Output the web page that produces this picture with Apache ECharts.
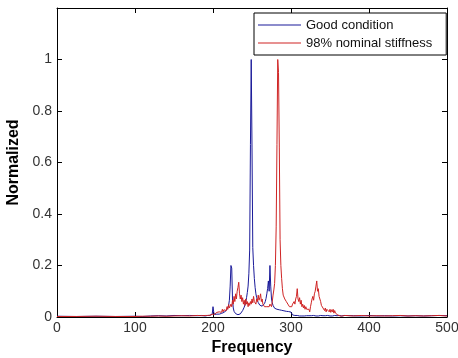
<!DOCTYPE html>
<html>
<head>
<meta charset="utf-8">
<script src="https://cdn.jsdelivr.net/npm/echarts@6/dist/echarts.min.js"></script>
<style>
html,body{margin:0;padding:0;background:#fff;}
#chart{width:458px;height:358px;}
</style>
</head>
<body>
<div id="chart"></div>
<script>
// Frequency sampling grid (Hz)
var freqLow = [0, 25, 50, 75, 100, 110, 120, 130, 140, 150, 160, 170, 180, 185];
var freqMid = [
 190,191,192,193,194,195,196,197,198,199,
 200,201,202,203,204,205,206,207,208,209,
 210,211,212,213,214,215,216,217,218,219,
 220,221,222,223,224,225,226,227,228,229,
 230,231,232,233,234,235,236,237,238,239,
 240,241,242,243,244,245,246,247,248,249,
 250,251,252,253,254,255,256,257,258,259,
 260,261,262,263,264,265,266,267,268,269,
 270,271,272,273,274,275,276,277,278,279,
 280,281,282,283,284,285,286,287,288,289,
 290,291,292,293,294,295,296,297,298,299,
 300,301,302,303,304,305,306,307,308,309,
 310,311,312,313,314,315,316,317,318,319,
 320,321,322,323,324,325,326,327,328,329,
 330,331,332,333,334,335,336,337,338,339,
 340,341,342,343,344,345,346,347,348,349,
 350,351,352,353,354,355,356,357,358,359,
 360,361,362,363,364,365,366,367,368,369,370
];
var freqHigh = [380, 390, 400, 410, 420, 430, 440, 450, 460, 470, 480, 490, 500];

// Good condition (blue)
var goodLow = [0.003, 0.002, 0.003, 0.002, 0.003, 0.002, 0.004, 0.005, 0.004, 0.006, 0.005, 0.006, 0.005, 0.006];
var goodMid = [
 0.004,0.005,0.004,0.006,0.005,0.004,0.006,0.005,0.008,0.012,
 0.040,0.018,0.010,0.009,0.010,0.011,0.010,0.012,0.011,0.013,
 0.012,0.014,0.015,0.016,0.018,0.020,0.022,0.025,0.030,0.036,
 0.045,0.065,0.120,0.200,0.190,0.070,0.035,0.022,0.016,0.013,
 0.011,0.010,0.009,0.009,0.010,0.012,0.015,0.019,0.025,0.031,
 0.038,0.047,0.058,0.075,0.095,0.120,0.170,0.260,0.670,1.000,
 0.660,0.270,0.200,0.150,0.115,0.090,0.075,0.064,0.056,0.050,
 0.046,0.043,0.042,0.042,0.044,0.047,0.052,0.060,0.072,0.090,
 0.110,0.140,0.100,0.200,0.120,0.070,0.055,0.045,0.038,0.034,
 0.032,0.031,0.030,0.029,0.028,0.028,0.027,0.026,0.026,0.025,
 0.024,0.024,0.023,0.023,0.022,0.022,0.021,0.021,0.020,0.020,
 0.019,0.012,0.008,0.006,0.005,0.006,0.004,0.005,0.006,0.004,
 0.005,0.004,0.006,0.005,0.004,0.005,0.006,0.004,0.005,0.004,
 0.005,0.006,0.004,0.005,0.004,0.006,0.005,0.004,0.005,0.006,
 0.004,0.005,0.004,0.006,0.005,0.004,0.005,0.004,0.006,0.005,
 0.004,0.005,0.006,0.004,0.005,0.004,0.005,0.006,0.004,0.005,
 0.004,0.006,0.005,0.004,0.005,0.004,0.006,0.005,0.004,0.005,
 0.004,0.005,0.006,0.004,0.005,0.004,0.005,0.004,0.006,0.005,0.004
];
var goodHigh = [0.005, 0.004, 0.006, 0.004, 0.005, 0.004, 0.005, 0.004, 0.005, 0.004, 0.005, 0.006, 0.005];

// 98% nominal stiffness (red)
var stiffLow = [0.002, 0.002, 0.003, 0.002, 0.002, 0.003, 0.003, 0.004, 0.003, 0.004, 0.005, 0.004, 0.006, 0.005];
var stiffMid = [
 0.006,0.005,0.007,0.006,0.008,0.006,0.007,0.009,0.007,0.010,
 0.012,0.009,0.011,0.013,0.012,0.018,0.022,0.014,0.020,0.016,
 0.025,0.018,0.030,0.020,0.028,0.022,0.035,0.025,0.040,0.030,
 0.048,0.035,0.030,0.050,0.040,0.065,0.050,0.080,0.060,0.090,
 0.070,0.100,0.115,0.135,0.090,0.070,0.085,0.060,0.075,0.050,
 0.065,0.045,0.070,0.050,0.060,0.040,0.055,0.045,0.060,0.050,
 0.070,0.055,0.080,0.060,0.065,0.050,0.070,0.060,0.085,0.065,
 0.075,0.090,0.060,0.070,0.050,0.045,0.040,0.035,0.045,0.040,
 0.040,0.045,0.040,0.050,0.045,0.040,0.060,0.085,0.105,0.130,
 0.200,0.350,0.670,1.000,0.950,0.660,0.300,0.200,0.150,0.110,
 0.085,0.090,0.070,0.075,0.060,0.055,0.050,0.045,0.040,0.035,
 0.045,0.040,0.050,0.045,0.060,0.050,0.070,0.080,0.110,0.070,
 0.060,0.075,0.050,0.065,0.040,0.050,0.035,0.045,0.030,0.040,
 0.030,0.035,0.025,0.030,0.020,0.040,0.055,0.070,0.080,0.065,
 0.090,0.100,0.120,0.140,0.100,0.110,0.080,0.070,0.060,0.045,
 0.050,0.035,0.040,0.025,0.035,0.020,0.030,0.025,0.035,0.020,
 0.030,0.018,0.028,0.020,0.030,0.015,0.025,0.015,0.020,0.010,
 0.008,0.005,0.006,0.004,0.005,0.006,0.004,0.005,0.004,0.006,0.005
];
var stiffHigh = [0.004, 0.006, 0.004, 0.005, 0.004, 0.005, 0.006, 0.004, 0.005, 0.004, 0.005, 0.006, 0.004];

var xTicks = [0, 100, 200, 300, 400, 500];
var yTicks = [0, 0.2, 0.4, 0.6, 0.8, 1];

var seriesNames = ['Good condition', '98% nominal stiffness'];

function pairs(fx, fy) {
  var out = [];
  for (var i = 0; i < fx.length; i++) out.push([fx[i], fy[i]]);
  return out;
}
var freqAll = freqLow.concat(freqMid, freqHigh);
var goodData = pairs(freqAll, goodLow.concat(goodMid, goodHigh));
var stiffData = pairs(freqAll, stiffLow.concat(stiffMid, stiffHigh));

var FONT = '"Liberation Sans", Arial, sans-serif';
var axisLineStyle = { onZero: false, lineStyle: { color: '#000', width: 1 } };
var tickStyle = { inside: true, length: 5, lineStyle: { color: '#000' } };

var chart = echarts.init(document.getElementById('chart'), null, { renderer: 'canvas' });
chart.setOption({
  animation: false,
  backgroundColor: '#fff',
  grid: { left: 57, right: 11, top: 8, bottom: 41, containLabel: false, outerBoundsMode: 'none' },
  legend: {
    data: [
      { name: seriesNames[0], icon: 'rect' },
      { name: seriesNames[1], icon: 'rect' }
    ],
    orient: 'vertical',
    left: 254, top: 13,
    itemWidth: 43, itemHeight: 1, itemGap: 2,
    itemTextGap: 0,
    padding: [4, 14, 4, 4],
    backgroundColor: '#fff',
    borderColor: '#000', borderWidth: 1, borderRadius: 0,
    textStyle: { fontFamily: FONT, fontSize: 13, color: '#111', lineHeight: 16 }
  },
  xAxis: [
    {
      type: 'value', min: xTicks[0], max: xTicks[xTicks.length - 1], interval: 100,
      name: 'Frequency', nameLocation: 'middle', nameGap: 23,
      nameTextStyle: { fontFamily: FONT, fontSize: 16, fontWeight: 'bold', color: '#000' },
      axisLine: axisLineStyle,
      axisTick: tickStyle,
      axisLabel: { fontFamily: FONT, fontSize: 14, color: '#333', margin: 4 },
      splitLine: { show: false }
    },
    {
      type: 'value', position: 'top', min: xTicks[0], max: xTicks[xTicks.length - 1], interval: 100,
      axisLine: axisLineStyle,
      axisTick: tickStyle,
      axisLabel: { show: false },
      splitLine: { show: false }
    }
  ],
  yAxis: [
    {
      type: 'value', min: 0, max: 1.2, interval: 0.2,
      name: 'Normalized', nameLocation: 'middle', nameGap: 28,
      nameTextStyle: { fontFamily: FONT, fontSize: 16, fontWeight: 'bold', color: '#000' },
      axisLine: axisLineStyle,
      axisTick: tickStyle,
      axisLabel: {
        fontFamily: FONT, fontSize: 14, color: '#333', margin: 5,
        formatter: function (v) { return v > 1.05 ? '' : String(Math.round(v * 10) / 10); }
      },
      splitLine: { show: false }
    },
    {
      type: 'value', position: 'right', min: 0, max: 1.2, interval: 0.2,
      axisLine: axisLineStyle,
      axisTick: tickStyle,
      axisLabel: { show: false },
      splitLine: { show: false }
    }
  ],
  series: [
    {
      name: seriesNames[0], type: 'line', data: goodData,
      xAxisIndex: 0, yAxisIndex: 0,
      showSymbol: false, symbol: 'none',
      lineStyle: { color: '#1a1a99', width: 1 },
      itemStyle: { color: '#1a1a99' }
    },
    {
      name: seriesNames[1], type: 'line', data: stiffData,
      xAxisIndex: 0, yAxisIndex: 0,
      showSymbol: false, symbol: 'none',
      lineStyle: { color: '#cf2424', width: 1 },
      itemStyle: { color: '#cf2424' }
    }
  ]
});
</script>
</body>
</html>
